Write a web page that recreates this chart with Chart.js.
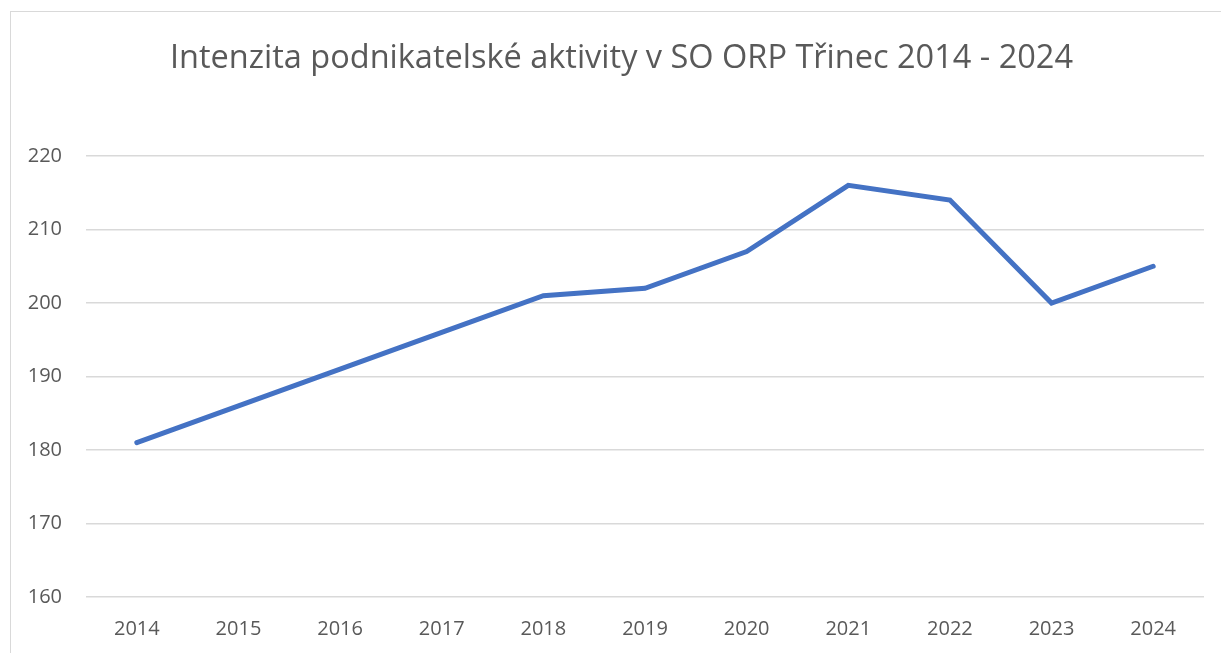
<!DOCTYPE html>
<html>
<head>
<meta charset="utf-8">
<script src="https://cdn.jsdelivr.net/npm/chart.js@4"></script>
<style>
  html, body { margin: 0; padding: 0; background: #fff; }
  .wrap { position: relative; width: 1221px; height: 653px; overflow: hidden; }
  .frame { position: absolute; left: 10px; top: 11px; width: 1300px; height: 700px;
           border-left: 1px solid #d9d9d9; border-top: 1px solid #d9d9d9; }
  canvas { position: absolute; left: 0; top: 0; }
</style>
</head>
<body>
<div class="wrap">
  <div class="frame"></div>
  <canvas id="chart" width="1221" height="653"></canvas>
</div>
<script>
// data
const years = ['2014', '2015', '2016', '2017', '2018', '2019', '2020', '2021', '2022', '2023', '2024'];
const intensity = [181, 186, 191, 196, 201, 202, 207, 216, 214, 200, 205];
const chartTitle = 'Intenzita podnikatelské aktivity v SO ORP Třinec 2014 - 2024';

const textColor = '#595959';
const gridColor = '#d9d9d9';
const fontFamily = '"Open Sans", "Noto Sans", sans-serif';

// the original centres the title a bit right of the plot centre
const shiftTitle = {
  id: 'shiftTitle',
  afterLayout(chart) {
    if (chart.titleBlock) {
      chart.titleBlock.left += 19.5;
      chart.titleBlock.right += 19.5;
    }
  }
};

const ctx = document.getElementById('chart').getContext('2d');
new Chart(ctx, {
  type: 'line',
  data: {
    labels: years,
    datasets: [{
      data: intensity,
      borderColor: '#4472c4',
      borderWidth: 5,
      borderCapStyle: 'round',
      borderJoinStyle: 'miter',
      pointRadius: 0,
      pointHoverRadius: 0,
      tension: 0,
      fill: false
    }]
  },
  options: {
    responsive: false,
    animation: false,
    layout: { padding: { left: 0, right: 17, top: 0, bottom: 0 } },
    plugins: {
      legend: { display: false },
      tooltip: { enabled: false },
      title: {
        display: true,
        text: chartTitle,
        color: textColor,
        font: { family: fontFamily, size: 32.5, weight: 'normal', lineHeight: 1.2 },
        padding: { top: 39, bottom: 78 }
      }
    },
    scales: {
      x: {
        offset: true,
        grid: { display: false, drawTicks: false },
        border: { display: false },
        ticks: { color: textColor, font: { family: fontFamily, size: 20 }, padding: 20, maxRotation: 0 },
        afterFit: (s) => { s.height = 56; }
      },
      y: {
        min: 160,
        max: 220,
        ticks: { stepSize: 10, color: textColor, font: { family: fontFamily, size: 20 }, padding: 24 },
        grid: { color: gridColor, lineWidth: 1.5, drawTicks: false },
        border: { display: false },
        afterFit: (s) => { s.width = 86; }
      }
    }
  },
  plugins: [shiftTitle]
});
</script>
</body>
</html>
